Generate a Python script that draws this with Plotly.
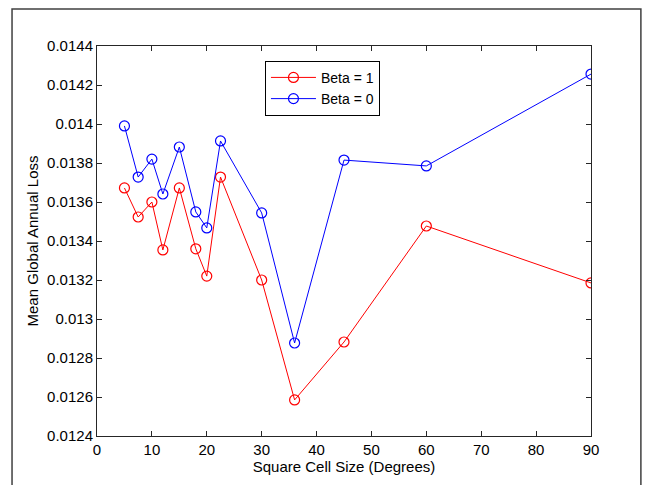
import plotly.graph_objects as go

cell_size = [5, 7.5, 10, 12, 15, 18, 20, 22.5, 30, 36, 45, 60, 90]
beta1 = [0.013672, 0.013523, 0.013600, 0.013354, 0.013672, 0.013360, 0.013220,
         0.013728, 0.013200, 0.012585, 0.012882, 0.013477, 0.013185]
beta0 = [0.013990, 0.013728, 0.013820, 0.013641, 0.013882, 0.013549, 0.013467,
         0.013913, 0.013544, 0.012877, 0.013815, 0.013785, 0.014256]
x_ticks = [0, 10, 20, 30, 40, 50, 60, 70, 80, 90]
y_ticks = [0.0124, 0.0126, 0.0128, 0.013, 0.0132, 0.0134, 0.0136, 0.0138, 0.014, 0.0142, 0.0144]
y_tick_text = ["0.0124", "0.0126", "0.0128", "0.013", "0.0132", "0.0134", "0.0136",
               "0.0138", "0.014", "0.0142", "0.0144"]

FONT = "Liberation Sans, Arial, sans-serif"

fig = go.Figure()
fig.add_trace(go.Scatter(x=cell_size, y=beta1, mode="lines+markers", name="Beta = 1",
                         line=dict(color="#ff0000", width=1),
                         marker=dict(symbol="circle-open", size=10, color="#ff0000",
                                     line=dict(width=1.2))))
fig.add_trace(go.Scatter(x=cell_size, y=beta0, mode="lines+markers", name="Beta = 0",
                         line=dict(color="#0000ff", width=1),
                         marker=dict(symbol="circle-open", size=10, color="#0000ff",
                                     line=dict(width=1.2))))

axis_common = dict(showgrid=False, zeroline=False, showline=True, linecolor="#262626",
                   linewidth=1, mirror="ticks", ticks="inside", ticklen=5,
                   tickcolor="#262626", tickfont=dict(family=FONT, size=15, color="black"))

fig.update_xaxes(range=[0, 90], tickvals=x_ticks, title=dict(
    text="Square Cell Size (Degrees)", font=dict(family=FONT, size=15, color="black"),
    standoff=4), **axis_common)
fig.update_yaxes(range=[0.0124, 0.0144], tickvals=y_ticks, ticktext=y_tick_text,
                 title=dict(text="Mean Global Annual Loss",
                            font=dict(family=FONT, size=15, color="black"), standoff=4),
                 **axis_common)

fig.add_shape(type="rect", xref="paper", yref="paper", x0=-0.172, x1=1.101,
              y0=-0.3, y1=1.095, line=dict(color="#404040", width=1.5),
              fillcolor="rgba(0,0,0,0)", layer="below")

fig.update_layout(
    width=653, height=485,
    margin=dict(l=89, r=70, t=38, b=57, autoexpand=False),
    paper_bgcolor="white", plot_bgcolor="white",
    font=dict(family=FONT, size=15, color="black"),
    showlegend=True,
    legend=dict(x=0.34, y=0.962, xanchor="left", yanchor="top",
                bgcolor="white", bordercolor="black", borderwidth=1,
                font=dict(family=FONT, size=14, color="black"),
                itemwidth=45, tracegroupgap=0),
)

fig.write_html("out.html")
